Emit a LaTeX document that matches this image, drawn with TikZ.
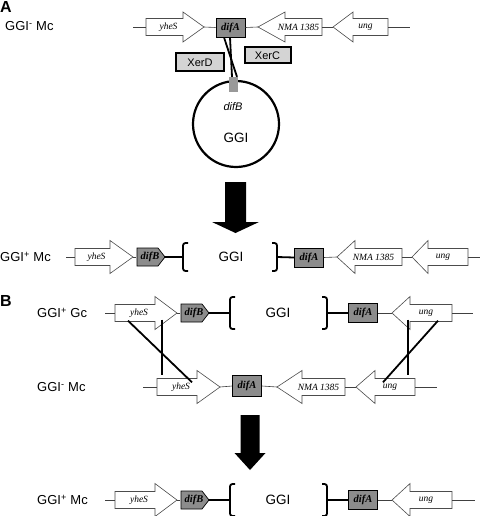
\documentclass[tikz,border=0pt]{standalone}
\usepackage{fontspec}
\setmainfont{Liberation Serif}
\setsansfont{Liberation Sans}
\usepackage{xcolor}
\colorlet{DIFCOLOR}{black!45}
\colorlet{SITECOLOR}{black!40}
\colorlet{XERCOLOR}{black!17}
\usepackage{tikz}
\usetikzlibrary{positioning}
\tikzset{
  gene-style/.style = {
    draw=black!70, fill=white, line width=0.6pt
  },
  gene-box/.style = {
    inner sep=0pt, minimum height=17pt
  },
  gene-text/.style = {
    inner sep=0pt,
    font=\fontsize{9.5}{10}\selectfont\itshape
  },
  dif-style/.style = {
    draw, fill=DIFCOLOR, line width=0.7pt, inner sep=0pt,
    minimum width=29pt, minimum height=19pt,
    font=\fontsize{10.5}{10}\selectfont\bfseries\itshape
  },
  difb-style/.style = {
    draw, fill=DIFCOLOR, line width=0.7pt
  },
  difb-text/.style = {
    inner sep=0pt, minimum height=18pt,
    font=\fontsize{10.5}{10}\selectfont\bfseries\itshape
  },
  xer-style/.style = {
    draw, fill=XERCOLOR, line width=2pt, inner sep=0pt,
    font=\sffamily\fontsize{11}{11}\selectfont
  },
  site-style/.style = {
    fill=SITECOLOR, inner sep=0pt, minimum width=9pt, minimum height=15pt
  },
  ring-style/.style = {
    circle, draw, line width=2.2pt, inner sep=0pt, minimum size=86pt
  },
  backbone/.style = {
    draw=black!75, line width=0.6pt
  },
  thick-link/.style = {
    draw, line width=1.8pt
  },
  cross-line/.style = {
    draw, line width=1.8pt
  },
  bracket-style/.style = {
    draw, line width=1.8pt, rounded corners=2.5pt
  },
  big-arrow/.style = {
    fill=black
  },
  row-label/.style = {
    anchor=west, inner sep=0pt,
    font=\sffamily\fontsize{13}{13}\selectfont
  },
  ggi-text/.style = {
    inner sep=0pt, font=\sffamily\fontsize{13.5}{13}\selectfont
  },
  panel-label/.style = {
    inner sep=0pt, font=\sffamily\bfseries\fontsize{16}{16}\selectfont
  }
}
\newcommand\genehead{16.5}
% gene pointing right: name, tail, head base, tip, y, text
\newcommand\createGeneR[6]{
  \draw[gene-style] (#2,#5-8.5) -- (#3,#5-8.5) -- (#3,#5-\genehead) -- (#4,#5)
    -- (#3,#5+\genehead) -- (#3,#5+8.5) -- (#2,#5+8.5) -- cycle;
  \node[gene-box, minimum width={#3-#2}] (#1) at ({(#2+#3)/2},#5) {};
  \node[gene-text] (#1-txt) at ([xshift=4pt]#1.center) {#6};
  \coordinate (#1-tip) at (#4,#5);
}
% gene pointing left: name, tip, head base, tail, y, text
\newcommand\createGeneL[6]{
  \draw[gene-style] (#2,#5) -- (#3,#5-\genehead) -- (#3,#5-8.5) -- (#4,#5-8.5)
    -- (#4,#5+8.5) -- (#3,#5+8.5) -- (#3,#5+\genehead) -- cycle;
  \node[gene-box, minimum width={#4-#3}] (#1) at ({(#3+#4)/2},#5) {};
  \node[gene-text] (#1-txt) at ([xshift=-5pt]#1.center) {#6};
  \coordinate (#1-tip) at (#2,#5);
}
% difB site: name, left x, y
\newcommand\createDifB[3]{
  \draw[difb-style] (#2,#3-9) -- (#2+21,#3-9) -- (#2+28,#3) -- (#2+21,#3+9)
    -- (#2,#3+9) -- cycle;
  \node[difb-text, minimum width=28pt] (#1) at (#2+13,#3) {difB};
}
% bracket: name, x, y, hook, half height
\newcommand\createBracket[5]{
  \draw[bracket-style] ({#2+(#4)},{#3-#5}) -- (#2,{#3-#5}) -- (#2,{#3+#5})
    -- ({#2+(#4)},{#3+#5});
  \coordinate (#1) at (#2,#3);
}
% big arrow: x, top, head base, tip, shaft half, head half
\newcommand\createBigArrow[6]{
  \fill[big-arrow] ({#1-#5},#2) -- ({#1+#5},#2) -- ({#1+#5},#3) -- ({#1+#6},#3)
    -- (#1,#4) -- ({#1-#6},#3) -- ({#1-#5},#3) -- cycle;
}

\begin{document}
\begin{tikzpicture}[x=1pt,y=-1pt]
    \useasboundingbox (0,0) rectangle (480,516);

    %%% panel A, GGI- chromosome
    \node[panel-label] (panelA) at (6,7) {A};
    \node[row-label] (lblA1) at (5,26) {GGI\textsuperscript{-} Mc};
    \coordinate (a1L) at (133,27);
    \coordinate (a1R) at (410,27);
    \renewcommand\genehead{15}
    \createGeneR{yheSa1}{146}{183}{204}{27}{yheS}
    \node[dif-style] (difAa1) at (230.5,27.5) {difA};
    \createGeneL{nmaa1}{258}{285}{322}{27}{NMA 1385}
    \createGeneL{unga1}{333}{353}{388}{27}{ung}
    \path[backbone] (a1L) -- (yheSa1.west);
    \path[backbone] (yheSa1-tip) -- (difAa1.west);
    \path[backbone] (difAa1.east) -- (nmaa1-tip);
    \path[backbone] (nmaa1.east) -- (unga1-tip);
    \path[backbone] (unga1.east) -- (a1R);

    %%% recombinases and circular GGI
    \node[xer-style, minimum width=48pt, minimum height=18pt] (xerD) at (200,62.5) {XerD};
    \node[xer-style, minimum width=46pt, minimum height=16pt] (xerC) at (267.5,55.5) {XerC};
    \node[ring-style] (ring) at (236,124) {};
    \node[site-style] (difBa1) at (233.5,84.5) {};
    \node[font=\sffamily\itshape\fontsize{11}{11}\selectfont, inner sep=0pt] (difBlbl) at (233,107) {difB};
    \node[ggi-text] (ggiRing) at (236,138) {GGI};
    \path[cross-line] ([xshift=-6.5pt]difAa1.south) -- ([xshift=3.5pt]difBa1.north);
    \path[cross-line] ([xshift=-0.5pt]difAa1.south) -- ([xshift=-1.5pt]difBa1.north);

    \createBigArrow{235.5}{182}{222}{233}{10.5}{23.5}

    %%% GGI+ after integration
    \renewcommand\genehead{16.5}
    \node[row-label] (lblA2) at (0,257) {GGI\textsuperscript{+} Mc};
    \coordinate (a2L) at (66,257);
    \coordinate (a2R) at (480,257);
    \createGeneR{yheSa2}{75}{110}{133}{257}{yheS}
    \createDifB{difBa2}{137}{257}
    \createBracket{brLa2}{183}{257}{5}{14}
    \node[ggi-text] (ggiA2) at (231,257) {GGI};
    \createBracket{brRa2}{277}{257}{-5}{14}
    \node[dif-style] (difAa2) at (309,257.5) {difA};
    \createGeneL{nmaa2}{337}{355}{402}{257}{NMA 1385}
    \createGeneL{unga2}{412}{428}{468}{257}{ung}
    \path[backbone] (a2L) -- (yheSa2.west);
    \path[backbone] (yheSa2-tip) -- (difBa2.west);
    \path[thick-link] (difBa2.east) -- (brLa2);
    \path[thick-link] (brRa2) -- (difAa2.west);
    \path[backbone] (difAa2.east) -- (nmaa2-tip);
    \path[backbone] (nmaa2.east) -- (unga2-tip);
    \path[backbone] (unga2.east) -- (a2R);

    %%% panel B, GGI+ Gc
    \node[panel-label] (panelB) at (6,301) {B};
    \node[row-label] (lblB1) at (37,313) {GGI\textsuperscript{+} Gc};
    \coordinate (b1L) at (105,313);
    \coordinate (b1R) at (473,313);
    \createGeneR{yheSb1}{115}{155}{177}{313}{yheS}
    \createDifB{difBb1}{181}{313}
    \createBracket{brLb1}{230}{313}{5}{16}
    \node[ggi-text] (ggiB1) at (278,313) {GGI};
    \createBracket{brRb1}{327}{313}{-5}{16}
    \node[dif-style] (difAb1) at (363,313) {difA};
    \createGeneL{ungb1}{392}{410}{452}{313}{ung}
    \path[backbone] (b1L) -- (yheSb1.west);
    \path[backbone] (yheSb1-tip) -- (difBb1.west);
    \path[thick-link] (difBb1.east) -- (brLb1);
    \path[thick-link] (brRb1) -- (difAb1.west);
    \path[backbone] (difAb1.east) -- (ungb1-tip);
    \path[backbone] (ungb1.east) -- (b1R);

    %%% GGI- Mc
    \node[row-label] (lblB2) at (37,387) {GGI\textsuperscript{-} Mc};
    \coordinate (b2L) at (143,387);
    \coordinate (b2R) at (437,387);
    \createGeneR{yheSb2}{157}{197}{220}{387}{yheS}
    \node[dif-style, minimum height=21pt] (difAb2) at (247,386) {difA};
    \createGeneL{nmab2}{277}{302}{345}{387}{NMA 1385}
    \createGeneL{ungb2}{356}{375}{415}{387}{ung}
    \path[backbone] (b2L) -- (yheSb2.west);
    \path[backbone] (yheSb2-tip) -- (difAb2.west);
    \path[backbone] (difAb2.east) -- (nmab2-tip);
    \path[backbone] (nmab2.east) -- (ungb2-tip);
    \path[backbone] (ungb2.east) -- (b2R);

    %%% homologous crossovers
    \path[cross-line] ([xshift=27pt,yshift=2pt]yheSb1.south) -- ([xshift=-15pt,yshift=3pt]yheSb2.north);
    \path[cross-line] ([xshift=-7pt,yshift=1pt]yheSb1.south) -- ([xshift=15pt,yshift=-4pt]yheSb2.north);
    \path[cross-line] ([xshift=-23pt,yshift=2pt]ungb1.south) -- ([xshift=13pt,yshift=3pt]ungb2.north);
    \path[cross-line] ([xshift=7pt,yshift=1pt]ungb1.south) -- ([xshift=-12pt,yshift=-4pt]ungb2.north);

    \createBigArrow{250}{415}{453}{470}{9.5}{15.5}

    %%% GGI+ Mc after transformation
    \node[row-label] (lblC) at (37,500) {GGI\textsuperscript{+} Mc};
    \coordinate (cL) at (105,500);
    \coordinate (cR) at (475,500);
    \createGeneR{yheSc}{115}{155}{177}{500}{yheS}
    \createDifB{difBc}{181}{500}
    \createBracket{brLc}{230}{500}{5}{16}
    \node[ggi-text] (ggiC) at (278,500) {GGI};
    \createBracket{brRc}{327}{500}{-5}{16}
    \node[dif-style] (difAc) at (363,500) {difA};
    \createGeneL{ungc}{392}{410}{452}{500}{ung}
    \path[backbone] (cL) -- (yheSc.west);
    \path[backbone] (yheSc-tip) -- (difBc.west);
    \path[thick-link] (difBc.east) -- (brLc);
    \path[thick-link] (brRc) -- (difAc.west);
    \path[backbone] (difAc.east) -- (ungc-tip);
    \path[backbone] (ungc.east) -- (cR);
\end{tikzpicture}
\end{document}
